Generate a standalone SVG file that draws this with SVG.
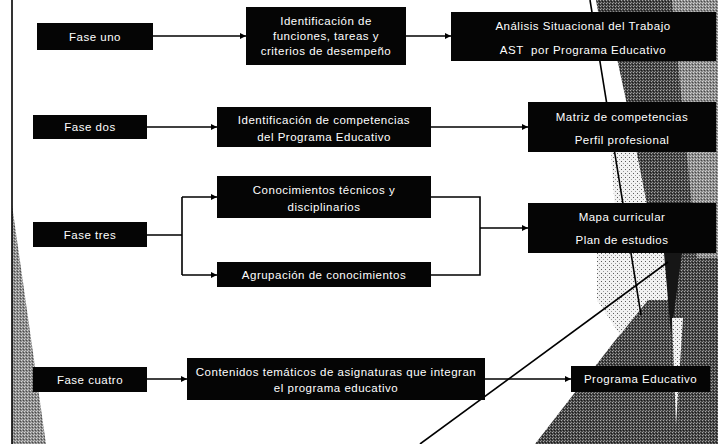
<svg xmlns="http://www.w3.org/2000/svg" width="718" height="444" viewBox="0 0 718 444">
  <defs>
    <style>
      .box { fill: #050505; }
      .lbl { fill: #ffffff; font-family: "Liberation Sans", Arial, sans-serif; font-size: 11.5px; letter-spacing: 0.5px; text-anchor: middle; }
      .wire { fill: none; stroke: #000; stroke-width: 1.6; }
      .deco { fill: none; stroke: #000; stroke-width: 1.6; }
    </style>
    <marker id="arrow" viewBox="0 0 6 6" refX="6" refY="3" markerWidth="6" markerHeight="6" markerUnits="userSpaceOnUse" orient="auto">
      <path d="M0,0 L6,3 L0,6 z" fill="#000"/>
    </marker>
    <!-- halftone-style grain for the decorative facets -->
    <pattern id="grainDark" width="3" height="3" patternUnits="userSpaceOnUse">
      <rect width="3" height="3" fill="#444444"/>
      <rect x="0" y="0" width="1" height="1" fill="#a8a8a8"/>
      <rect x="2" y="1" width="1" height="1" fill="#1a1a1a"/>
      <rect x="1" y="2" width="1" height="1" fill="#8a8a8a"/>
    </pattern>
    <pattern id="grainMid" width="3" height="3" patternUnits="userSpaceOnUse">
      <rect width="3" height="3" fill="#8a8a8a"/>
      <rect x="0" y="0" width="1" height="1" fill="#d8d8d8"/>
      <rect x="2" y="1" width="1" height="1" fill="#4a4a4a"/>
      <rect x="1" y="2" width="1" height="1" fill="#c0c0c0"/>
    </pattern>
    <pattern id="grainLight" width="4" height="4" patternUnits="userSpaceOnUse">
      <rect width="4" height="4" fill="#f2f2f2"/>
      <rect x="1" y="1" width="1" height="1" fill="#5a5a5a"/>
      <rect x="3" y="3" width="1" height="1" fill="#9a9a9a"/>
    </pattern>
  </defs>

  <rect width="718" height="444" fill="#ffffff"/>

  <!-- background facets -->
  <g id="background">
    <polygon points="12,205 12,444 46,444" fill="url(#grainMid)"/>
    <line class="deco" x1="12" y1="0" x2="12" y2="444"/>

    <polygon points="596,0 718,0 718,444 535,444 648,298" fill="url(#grainDark)"/>
    <polygon points="672,0 718,0 718,258 697,258" fill="url(#grainMid)"/>
    <polygon points="590,12 607,12 632,128 610,128" fill="#ffffff"/>
    <polygon points="609,128 632,128 648,210 668,250 672,300 648,300 620,335 597,300 597,250 615,210" fill="url(#grainLight)"/>
    <polygon points="664,253 682,253 671,335" fill="#161616"/>
    <polygon points="672,318 683,318 676,425" fill="url(#grainLight)"/>

    <line class="deco" x1="590" y1="0" x2="641" y2="315"/>
    <line class="deco" x1="420" y1="444" x2="668" y2="262"/>
  </g>

  <!-- connectors -->
  <g id="connectors">
    <path class="wire" d="M153,36 H246" marker-end="url(#arrow)"/>
    <path class="wire" d="M406,36 H451" marker-end="url(#arrow)"/>
    <path class="wire" d="M147,127 H217" marker-end="url(#arrow)"/>
    <path class="wire" d="M431,127 H528" marker-end="url(#arrow)"/>
    <path class="wire" d="M147,235 H182 M182,197 V275"/>
    <path class="wire" d="M182,197 H217" marker-end="url(#arrow)"/>
    <path class="wire" d="M182,275 H217" marker-end="url(#arrow)"/>
    <path class="wire" d="M431,197 H480 V275 H431"/>
    <path class="wire" d="M480,228 H528" marker-end="url(#arrow)"/>
    <path class="wire" d="M147,379 H187" marker-end="url(#arrow)"/>
    <path class="wire" d="M485,379 H571" marker-end="url(#arrow)"/>
  </g>

  <!-- phase one -->
  <g id="fase-uno">
    <rect class="box" x="37" y="23" width="116" height="27"/>
    <text class="lbl" x="95" y="40.5">Fase uno</text>
  </g>
  <g id="identificacion-funciones">
    <rect class="box" x="246" y="7" width="160" height="58"/>
    <text class="lbl" x="326" y="25">Identificación de</text>
    <text class="lbl" x="326" y="40">funciones, tareas y</text>
    <text class="lbl" x="326" y="55">criterios de desempeño</text>
  </g>
  <g id="analisis-situacional">
    <rect class="box" x="451" y="12" width="265" height="49"/>
    <text class="lbl" x="583" y="30">Análisis Situacional del Trabajo</text>
    <text class="lbl" x="583" y="54">AST&#160; por Programa Educativo</text>
  </g>

  <!-- phase two -->
  <g id="fase-dos">
    <rect class="box" x="33" y="115" width="114" height="24"/>
    <text class="lbl" x="90" y="131">Fase dos</text>
  </g>
  <g id="identificacion-competencias">
    <rect class="box" x="217" y="107" width="214" height="40"/>
    <text class="lbl" x="324" y="124">Identificación de competencias</text>
    <text class="lbl" x="324" y="141">del Programa Educativo</text>
  </g>
  <g id="matriz-competencias">
    <rect class="box" x="528" y="102" width="188" height="50"/>
    <text class="lbl" x="622" y="121">Matriz de competencias</text>
    <text class="lbl" x="622" y="144">Perfil profesional</text>
  </g>

  <!-- phase three -->
  <g id="fase-tres">
    <rect class="box" x="33" y="222" width="114" height="25"/>
    <text class="lbl" x="90" y="238.5">Fase tres</text>
  </g>
  <g id="conocimientos-tecnicos">
    <rect class="box" x="217" y="176" width="214" height="42"/>
    <text class="lbl" x="324" y="194">Conocimientos técnicos y</text>
    <text class="lbl" x="324" y="211">disciplinarios</text>
  </g>
  <g id="agrupacion-conocimientos">
    <rect class="box" x="217" y="262" width="214" height="25"/>
    <text class="lbl" x="324" y="279">Agrupación de conocimientos</text>
  </g>
  <g id="mapa-curricular">
    <rect class="box" x="528" y="203" width="188" height="50"/>
    <text class="lbl" x="622" y="221">Mapa curricular</text>
    <text class="lbl" x="622" y="244">Plan de estudios</text>
  </g>

  <!-- phase four -->
  <g id="fase-cuatro">
    <rect class="box" x="33" y="367" width="114" height="25"/>
    <text class="lbl" x="90" y="383.5">Fase cuatro</text>
  </g>
  <g id="contenidos-tematicos">
    <rect class="box" x="187" y="358" width="298" height="42"/>
    <text class="lbl" x="336" y="376">Contenidos temáticos de asignaturas que integran</text>
    <text class="lbl" x="336" y="392">el programa educativo</text>
  </g>
  <g id="programa-educativo">
    <rect class="box" x="571" y="366" width="139" height="26"/>
    <text class="lbl" x="640.5" y="383">Programa Educativo</text>
  </g>
</svg>
